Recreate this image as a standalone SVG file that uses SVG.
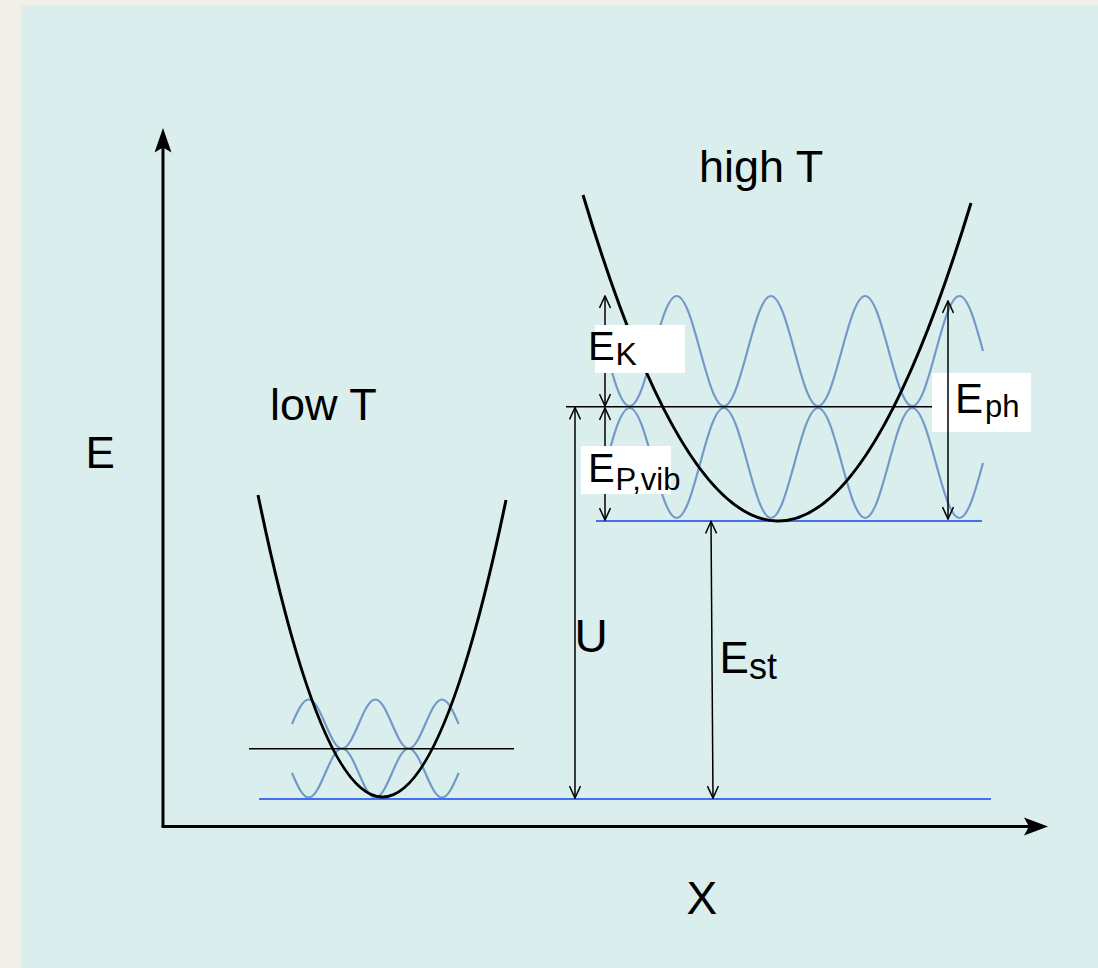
<svg xmlns="http://www.w3.org/2000/svg" width="1098" height="968" viewBox="0 0 1098 968">
<style>
.wave{fill:none;stroke:#7399c8;stroke-width:2.2}
.blk{fill:none;stroke:#000;stroke-width:1.5}
.base{fill:none;stroke:#4470f0;stroke-width:2}
.par{fill:none;stroke:#000;stroke-width:3}
.axis{fill:none;stroke:#000;stroke-width:3}
.arr{fill:none;stroke:#000;stroke-width:1.5;marker-start:url(#v);marker-end:url(#v)}
.box{fill:#fff}
text{font-family:"Liberation Sans",Arial,sans-serif;fill:#000}
</style>
<defs>
<marker id="v" viewBox="0 0 14 12" refX="13" refY="6" markerWidth="14" markerHeight="12" markerUnits="userSpaceOnUse" orient="auto-start-reverse">
<path d="M1,0.5 L13,6 L1,11.5" fill="none" stroke="#000" stroke-width="1.5"/>
</marker>
</defs>
<rect x="0" y="0" width="1098" height="968" fill="#f2efe9"/>
<rect x="21" y="5" width="1077" height="963" fill="#daefed"/>

<g id="axes">
<line class="axis" x1="163" y1="826.5" x2="163" y2="146"/>
<polygon points="163,128 171.5,152.5 163,147.5 154.5,152.5" fill="#000"/>
<line class="axis" x1="161.5" y1="826.5" x2="1030" y2="826.5"/>
<polygon points="1048,826.5 1024,817.5 1029,826.5 1024,835.5" fill="#000"/>
</g>

<g id="low-T-well">
<path class="wave" d="M292,724 c5.435,-12.551 10.635,-24.5 16.667,-24.5 c6.032,0 11.232,11.949 16.667,24.5 c5.435,12.551 10.635,24.5 16.667,24.5 c6.032,0 11.232,-11.949 16.667,-24.5 c5.435,-12.551 10.635,-24.5 16.667,-24.5 c6.032,0 11.232,11.949 16.667,24.5 c5.435,12.551 10.635,24.5 16.667,24.5 c6.032,0 11.232,-11.949 16.667,-24.5 c5.435,-12.551 10.635,-24.5 16.667,-24.5 c6.032,0 11.232,11.949 16.667,24.5"/>
<path class="wave" d="M292,773 c5.435,12.551 10.635,24.5 16.667,24.5 c6.032,0 11.232,-11.949 16.667,-24.5 c5.435,-12.551 10.635,-24.5 16.667,-24.5 c6.032,0 11.232,11.949 16.667,24.5 c5.435,12.551 10.635,24.5 16.667,24.5 c6.032,0 11.232,-11.949 16.667,-24.5 c5.435,-12.551 10.635,-24.5 16.667,-24.5 c6.032,0 11.232,11.949 16.667,24.5 c5.435,12.551 10.635,24.5 16.667,24.5 c6.032,0 11.232,-11.949 16.667,-24.5"/>
<line class="blk" x1="249" y1="748.7" x2="514" y2="748.7"/>
<line class="base" x1="259" y1="799" x2="991" y2="799"/>
<path class="par" d="M258,495 Q382,1096.5 506,500"/>
</g>

<g id="high-T-well">
<path class="wave" d="M606,351 c7.684,28.177 15.035,55 23.5625,55 c8.527,0 15.879,-26.823 23.5625,-55 c7.684,-28.177 15.035,-55 23.5625,-55 c8.527,0 15.879,26.823 23.5625,55 c7.684,28.177 15.035,55 23.5625,55 c8.527,0 15.879,-26.823 23.5625,-55 c7.684,-28.177 15.035,-55 23.5625,-55 c8.527,0 15.879,26.823 23.5625,55 c7.684,28.177 15.035,55 23.5625,55 c8.527,0 15.879,-26.823 23.5625,-55 c7.684,-28.177 15.035,-55 23.5625,-55 c8.527,0 15.879,26.823 23.5625,55 c7.684,28.177 15.035,55 23.5625,55 c8.527,0 15.879,-26.823 23.5625,-55 c7.684,-28.177 15.035,-55 23.5625,-55 c8.527,0 15.879,26.823 23.5625,55"/>
<path class="wave" d="M606,463 c7.684,-28.177 15.035,-55 23.5625,-55 c8.527,0 15.879,26.823 23.5625,55 c7.684,28.177 15.035,55 23.5625,55 c8.527,0 15.879,-26.823 23.5625,-55 c7.684,-28.177 15.035,-55 23.5625,-55 c8.527,0 15.879,26.823 23.5625,55 c7.684,28.177 15.035,55 23.5625,55 c8.527,0 15.879,-26.823 23.5625,-55 c7.684,-28.177 15.035,-55 23.5625,-55 c8.527,0 15.879,26.823 23.5625,55 c7.684,28.177 15.035,55 23.5625,55 c8.527,0 15.879,-26.823 23.5625,-55 c7.684,-28.177 15.035,-55 23.5625,-55 c8.527,0 15.879,26.823 23.5625,55 c7.684,28.177 15.035,55 23.5625,55 c8.527,0 15.879,-26.823 23.5625,-55"/>
<line class="blk" x1="566" y1="406.7" x2="934" y2="406.7"/>
<line class="base" x1="596" y1="521" x2="982" y2="521"/>
<path class="par" d="M583,195 Q777,843 971,203"/>
</g>

<g id="connectors">
<line class="arr" x1="605" y1="296" x2="605" y2="406"/>
<line class="arr" x1="605" y1="408" x2="605" y2="520"/>
<line class="arr" x1="575" y1="407.5" x2="575" y2="798"/>
<line class="arr" x1="711" y1="521.5" x2="713" y2="798"/>
</g>

<g id="label-EK">
<rect class="box" x="595" y="325" width="90" height="48"/>
<text x="588" y="360" font-size="40">E</text>
<text x="615.5" y="365" font-size="32">K</text>
</g>
<g id="label-EPvib">
<rect class="box" x="581" y="446" width="90" height="48"/>
<text x="588" y="482" font-size="40">E</text>
<text x="615.5" y="490" font-size="31">P,vib</text>
</g>
<g id="label-Eph">
<rect class="box" x="932" y="373" width="99" height="59"/>
<line class="arr" x1="948" y1="301" x2="948" y2="519"/>
<text x="955" y="413" font-size="42">E</text>
<text x="985" y="417" font-size="31">ph</text>
</g>
<g id="label-U"><text x="574.5" y="651.5" font-size="46">U</text></g>
<g id="label-Est">
<text x="719.5" y="673" font-size="44">E</text>
<text x="749" y="678.5" font-size="36">st</text>
</g>
<g id="label-E"><text x="85.5" y="468" font-size="44">E</text></g>
<g id="label-X"><text x="686.5" y="914" font-size="46">X</text></g>
<g id="label-lowT"><text x="270" y="420" font-size="45">low T</text></g>
<g id="label-highT"><text x="699" y="182" font-size="45">high T</text></g>
</svg>
